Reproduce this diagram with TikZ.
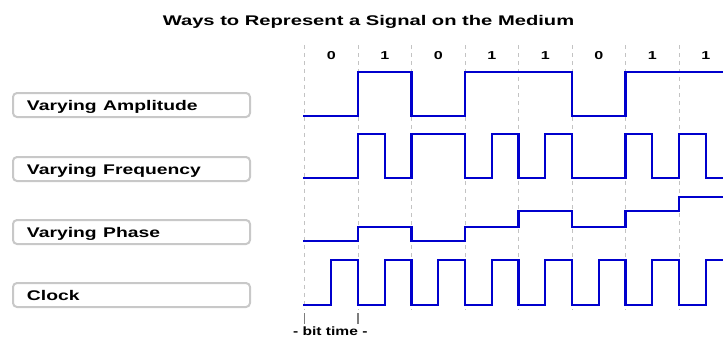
\documentclass[tikz,border=0pt]{standalone}
\usepackage{fontspec}
\usepackage{graphicx}
\setmainfont{Liberation Sans}
\definecolor{sig}{RGB}{0,0,205}
\definecolor{boxgray}{RGB}{200,200,200}
\definecolor{dashgray}{RGB}{195,195,195}
\definecolor{tickgray}{RGB}{125,125,125}
\newcommand{\widetxt}[2][1.38]{\scalebox{#1}[1]{#2}}
\begin{document}
\begin{tikzpicture}[x=1pt,y=-1pt,
  lbl/.style={draw=boxgray, line width=2pt, rounded corners=4pt, fill=white,
    minimum height=24pt, text width=209pt, align=left, inner xsep=14pt, inner ysep=0pt,
    text height=12pt, text depth=0.6pt, font=\fontsize{14}{16}\selectfont\bfseries},
  signal/.style={draw=sig, line width=2.4pt, line join=miter},
  gridline/.style={draw=dashgray, line width=1pt, dash pattern=on 4pt off 4pt},
  bitlbl/.style={font=\fontsize{11.5}{13}\selectfont\bfseries, anchor=base, inner sep=0pt},
  tickline/.style={draw=tickgray, line width=1.6pt}
]
\useasboundingbox (0,0) rectangle (723,338);
\clip (0,0) rectangle (723,338);

% title
\node[anchor=base, inner sep=0pt, font=\fontsize{14}{16}\selectfont\bfseries] (title) at (368.5,25.7)
  {\widetxt[1.44]{Ways to Represent a Signal on the Medium}};

% grid and bits
\foreach \k/\b in {0/0,1/1,2/0,3/1,4/1,5/0,6/1,7/1} {
  \draw[gridline] ({304.5+53.5*\k},45) -- ({304.5+53.5*\k},310);
  \node[bitlbl] (bit\k) at ({331.25+53.5*\k},59.8) {\widetxt[1.4]{\b}};
}

% labels
\node[lbl] (amp)   at (131.5,105) {\widetxt{Varying Amplitude}};
\node[lbl] (freq)  at (131.5,169) {\widetxt{Varying Frequency}};
\node[lbl] (phase) at (131.5,232) {\widetxt{Varying Phase}};
\node[lbl] (clock) at (131.5,295) {\widetxt{Clock}};

% amplitude
\draw[signal] (303,116) -- (358,116) -- (358,72) -- (411.5,72) -- (411.5,116)
  -- (465,116) -- (465,72) -- (572,72) -- (572,116) -- (625.5,116) -- (625.5,72) -- (725,72);

% frequency
\draw[signal] (303,178) -- (358,178) -- (358,134) -- (384.75,134) -- (384.75,178)
  -- (411.5,178) -- (411.5,134) -- (465,134) -- (465,178) -- (491.75,178) -- (491.75,134)
  -- (518.5,134) -- (518.5,178) -- (545.25,178) -- (545.25,134) -- (572,134) -- (572,178)
  -- (625.5,178) -- (625.5,134) -- (652.25,134) -- (652.25,178) -- (679,178) -- (679,134)
  -- (705.75,134) -- (705.75,178) -- (725,178);

% phase
\draw[signal] (303,241) -- (358,241) -- (358,227) -- (411.5,227) -- (411.5,241)
  -- (465,241) -- (465,227) -- (518.5,227) -- (518.5,211) -- (572,211) -- (572,227)
  -- (625.5,227) -- (625.5,211) -- (679,211) -- (679,197) -- (725,197);

% clock
\draw[signal] (303,305) -- (331.25,305) -- (331.25,260) -- (358,260) -- (358,305)
  -- (384.75,305) -- (384.75,260) -- (411.5,260) -- (411.5,305)
  -- (438.25,305) -- (438.25,260) -- (465,260) -- (465,305)
  -- (491.75,305) -- (491.75,260) -- (518.5,260) -- (518.5,305)
  -- (545.25,305) -- (545.25,260) -- (572,260) -- (572,305)
  -- (598.75,305) -- (598.75,260) -- (625.5,260) -- (625.5,305)
  -- (652.25,305) -- (652.25,260) -- (679,260) -- (679,305)
  -- (705.75,305) -- (705.75,260) -- (725,260);

% bit time
\coordinate (t0a) at (304.5,313); \coordinate (t0b) at (304.5,324);
\coordinate (t1a) at (358,313);   \coordinate (t1b) at (358,324);
\draw[tickline] (t0a) -- (t0b);
\draw[tickline] (t1a) -- (t1b);
\node[anchor=base, inner sep=0pt, font=\fontsize{12}{14}\selectfont\bfseries] (bittime) at (330.3,335)
  {\widetxt[1.3]{- bit time -}};
\end{tikzpicture}
\end{document}
